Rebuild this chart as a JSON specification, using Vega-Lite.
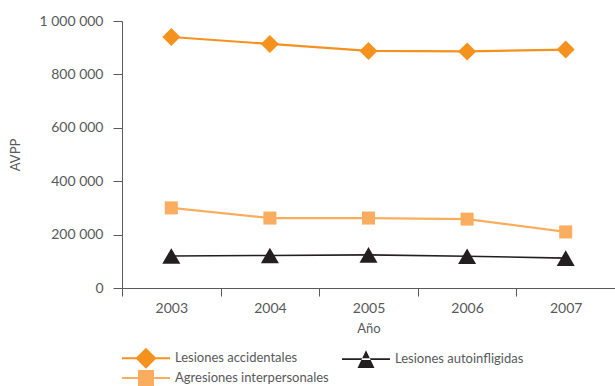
{
  "$schema": "https://vega.github.io/schema/vega-lite/v6.json",
  "width": 493,
  "height": 267,
  "autosize": {"type": "none"},
  "padding": {"left": 122, "top": 21, "right": 0, "bottom": 98},
  "background": "white",
  "config": {
    "font": "Lato",
    "view": {"stroke": null},
    "locale": {"number": {"decimal": ",", "thousands": " ", "grouping": [3], "currency": ["", ""]}},
    "axis": {"labelFont": "Lato", "titleFont": "Lato", "labelColor": "#58595B", "titleColor": "#58595B", "labelFontSize": 14, "titleFontSize": 13, "titleFontWeight": "normal", "domainColor": "#58595B", "tickColor": "#58595B", "grid": false},
    "legend": {"labelFont": "Lato", "labelColor": "#58595B", "labelFontSize": 13}
  },
  "data": {"values": [
    {"anio": "2003", "serie": "Lesiones accidentales", "valor": 940000},
    {"anio": "2004", "serie": "Lesiones accidentales", "valor": 914000},
    {"anio": "2005", "serie": "Lesiones accidentales", "valor": 888000},
    {"anio": "2006", "serie": "Lesiones accidentales", "valor": 886000},
    {"anio": "2007", "serie": "Lesiones accidentales", "valor": 893000},
    {"anio": "2003", "serie": "Agresiones interpersonales", "valor": 300000},
    {"anio": "2004", "serie": "Agresiones interpersonales", "valor": 262000},
    {"anio": "2005", "serie": "Agresiones interpersonales", "valor": 262000},
    {"anio": "2006", "serie": "Agresiones interpersonales", "valor": 258000},
    {"anio": "2007", "serie": "Agresiones interpersonales", "valor": 210000},
    {"anio": "2003", "serie": "Lesiones autoinfligidas", "valor": 120000},
    {"anio": "2004", "serie": "Lesiones autoinfligidas", "valor": 122000},
    {"anio": "2005", "serie": "Lesiones autoinfligidas", "valor": 124000},
    {"anio": "2006", "serie": "Lesiones autoinfligidas", "valor": 119000},
    {"anio": "2007", "serie": "Lesiones autoinfligidas", "valor": 112000}
  ]},
  "encoding": {
    "x": {"field": "anio", "type": "ordinal", "title": "Año",
      "scale": {"paddingInner": 0, "paddingOuter": 0},
      "axis": {"labelAngle": 0, "tickBand": "extent", "tickSize": 8, "labelPadding": 5, "titlePadding": 7}},
    "y": {"field": "valor", "type": "quantitative", "title": "AVPP",
      "scale": {"domain": [0, 1000000]},
      "axis": {"values": [0, 200000, 400000, 600000, 800000, 1000000], "format": ",d", "tickSize": 9, "labelPadding": 10, "titlePadding": 16}},
    "color": {"field": "serie", "type": "nominal",
      "scale": {"domain": ["Lesiones accidentales", "Lesiones autoinfligidas", "Agresiones interpersonales"], "range": ["#F5921E", "#231F20", "#FAAD5F"]}}
  },
  "layer": [
    {
      "mark": {"type": "point", "filled": true, "opacity": 0, "size": 256},
      "encoding": {
        "color": {"field": "serie", "type": "nominal",
          "legend": {"orient": "bottom", "title": null, "columns": 2, "direction": "horizontal", "symbolSize": 256, "labelOffset": 37, "columnPadding": 13, "rowPadding": 1, "offset": 15, "symbolStrokeWidth": 0}},
        "shape": {"field": "serie", "type": "nominal",
          "scale": {"domain": ["Lesiones accidentales", "Lesiones autoinfligidas", "Agresiones interpersonales"],
            "range": ["M-1,-0.13H5V0.13H-1Z M0.69,0L2,-1.31L3.31,0L2,1.31Z", "M-1,-0.1H5V0.1H-1Z M0.94,1.1L3.06,1.1L2,-1.1Z", "M-1,-0.13H5V0.13H-1Z M1,-1H3V1H1Z"]}}
      }
    },
    {
      "transform": [{"filter": "datum.serie != 'Lesiones autoinfligidas'"}],
      "mark": {"type": "line", "strokeWidth": 2.2}
    },
    {
      "transform": [{"filter": "datum.serie == 'Lesiones autoinfligidas'"}],
      "mark": {"type": "line", "strokeWidth": 1.6}
    },
    {
      "transform": [{"filter": "datum.serie == 'Lesiones accidentales'"}],
      "mark": {"type": "point", "shape": "diamond", "filled": true, "opacity": 1, "size": 324}
    },
    {
      "transform": [{"filter": "datum.serie == 'Agresiones interpersonales'"}],
      "mark": {"type": "point", "shape": "square", "filled": true, "opacity": 1, "size": 170}
    },
    {
      "transform": [{"filter": "datum.serie == 'Lesiones autoinfligidas'"}],
      "mark": {"type": "point", "shape": "triangle-up", "filled": true, "opacity": 1, "size": 324}
    }
  ]
}
